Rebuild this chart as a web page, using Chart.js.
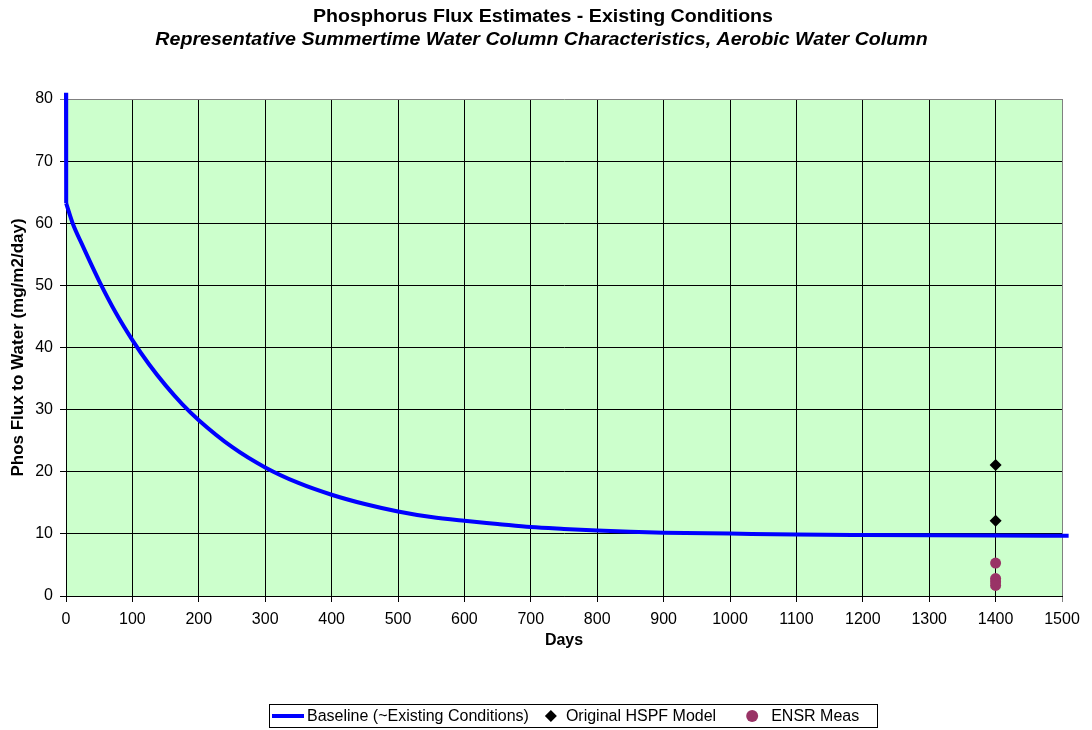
<!DOCTYPE html>
<html>
<head>
<meta charset="utf-8">
<script src="https://cdn.jsdelivr.net/npm/chart.js@4/dist/chart.umd.min.js"></script>
<style>
  html, body { margin: 0; padding: 0; background: #ffffff; }
  #wrap { width: 1092px; height: 730px; }
</style>
</head>
<body>
<div id="wrap"><canvas id="c" width="1092" height="730"></canvas></div>
<script>
// ---- Data ----
// initial spike at day 0 (runs off the top of the plot)
const spikeDays = [0, 0.3];
const spikeFlux = [81, 63.2];

// baseline decay curve
const baselineDays = [0.3, 10, 25, 50, 75, 100, 125, 150, 175, 200, 250, 300, 350, 400, 450, 500, 550, 600, 650, 700, 750, 800, 850, 900, 1000, 1100, 1200, 1300, 1400, 1510];
const baselineFlux = [63.2, 60.0, 56.4, 50.7, 45.6, 41.2, 37.3, 33.9, 30.9, 28.3, 24.0, 20.7, 18.2, 16.3, 14.8, 13.6, 12.7, 12.1, 11.6, 11.1, 10.8, 10.55, 10.35, 10.2, 10.05, 9.9, 9.82, 9.76, 9.72, 9.7];

const hspfDays = [1400, 1400];
const hspfFlux = [21.1, 12.1];

const ensrDays = [1400, 1400, 1400, 1400];
const ensrFlux = [5.3, 2.8, 2.3, 1.7];

const xTicks = [0, 100, 200, 300, 400, 500, 600, 700, 800, 900, 1000, 1100, 1200, 1300, 1400, 1500];
const yTicks = [0, 10, 20, 30, 40, 50, 60, 70, 80];

const seriesLabels = ['Baseline (~Existing Conditions)', 'Original HSPF Model', 'ENSR Meas'];
const titleText = 'Phosphorus Flux Estimates - Existing Conditions';
const subtitleText = 'Representative Summertime Water Column Characteristics, Aerobic Water Column';
const xTitle = 'Days';
const yTitle = 'Phos Flux to Water (mg/m2/day)';

// ---- Build datasets ----
const toXY = (xs, ys) => xs.map((x, i) => ({ x: x, y: ys[i] }));

const FONT = '"Liberation Sans", Arial, sans-serif';

const plotBg = {
  id: 'plotBg',
  beforeDraw(chart) {
    const { ctx, chartArea: a } = chart;
    ctx.save();
    ctx.fillStyle = '#CCFFCC';
    ctx.fillRect(a.left, a.top, a.right - a.left, a.bottom - a.top);
    ctx.restore();
  }
};

// Chart titles (slightly wide bold face, as in the reference)
const wideTitles = {
  id: 'wideTitles',
  afterDraw(chart) {
    const ctx = chart.ctx;
    ctx.save();
    ctx.fillStyle = '#000';
    ctx.textAlign = 'center';
    ctx.textBaseline = 'alphabetic';
    const sx = 1.09;
    ctx.font = 'bold 18px ' + FONT;
    ctx.save(); ctx.translate(543, 21.5); ctx.scale(sx, 1); ctx.fillText(titleText, 0, 0); ctx.restore();
    ctx.font = 'italic bold 18px ' + FONT;
    ctx.save(); ctx.translate(541.5, 45); ctx.scale(sx, 1); ctx.fillText(subtitleText, 0, 0); ctx.restore();
    ctx.restore();
  }
};

const boxLegend = {
  id: 'boxLegend',
  afterDraw(chart) {
    const ctx = chart.ctx;
    ctx.save();
    ctx.font = '16px ' + FONT;
    ctx.textBaseline = 'middle';
    ctx.fillStyle = '#000';
    const w1 = ctx.measureText(seriesLabels[0]).width;
    const w2 = ctx.measureText(seriesLabels[1]).width;
    const w3 = ctx.measureText(seriesLabels[2]).width;
    const total = 3 + 32 + 3 + w1 + 15 + 14 + 8 + w2 + 29 + 14 + 12 + w3 + 18;
    const left = Math.round(573 - total / 2);
    const top = 704, h = 23, cy = top + h / 2 + 0.5;
    ctx.strokeStyle = '#000';
    ctx.lineWidth = 1;
    ctx.strokeRect(left + 0.5, top + 0.5, Math.round(total), h);
    let x = left + 3;
    ctx.strokeStyle = '#0000FF';
    ctx.lineWidth = 4;
    ctx.beginPath(); ctx.moveTo(x, cy); ctx.lineTo(x + 32, cy); ctx.stroke();
    x += 35;
    ctx.fillText(seriesLabels[0], x, cy + 1);
    x += w1 + 15;
    ctx.fillStyle = '#000';
    ctx.beginPath();
    ctx.moveTo(x + 7, cy - 6); ctx.lineTo(x + 13, cy); ctx.lineTo(x + 7, cy + 6); ctx.lineTo(x + 1, cy);
    ctx.closePath(); ctx.fill();
    x += 22;
    ctx.fillText(seriesLabels[1], x, cy + 1);
    x += w2 + 29;
    ctx.fillStyle = '#993366';
    ctx.beginPath(); ctx.arc(x + 7, cy, 6, 0, Math.PI * 2); ctx.fill();
    x += 26;
    ctx.fillStyle = '#000';
    ctx.fillText(seriesLabels[2], x, cy + 1);
    ctx.restore();
  }
};

const lineStyle = {
  showLine: true,
  borderColor: '#0000FF',
  backgroundColor: '#0000FF',
  borderWidth: 4,
  pointRadius: 0,
  pointHoverRadius: 0,
  clip: { left: 5, top: 12, right: 12, bottom: 5 }
};

new Chart(document.getElementById('c'), {
  type: 'scatter',
  data: {
    datasets: [
      Object.assign({ label: seriesLabels[0] + ' (start)', data: toXY(spikeDays, spikeFlux), order: 4 }, lineStyle),
      Object.assign({ label: seriesLabels[0], data: toXY(baselineDays, baselineFlux), cubicInterpolationMode: 'monotone', order: 3 }, lineStyle),
      {
        label: seriesLabels[1],
        data: toXY(hspfDays, hspfFlux),
        pointStyle: 'rectRot',
        pointRadius: 6,
        backgroundColor: '#000000',
        borderColor: '#000000',
        borderWidth: 0,
        order: 1
      },
      {
        label: seriesLabels[2],
        data: toXY(ensrDays, ensrFlux),
        pointStyle: 'circle',
        pointRadius: 5.5,
        backgroundColor: '#993366',
        borderColor: '#993366',
        borderWidth: 0,
        order: 2
      }
    ]
  },
  options: {
    responsive: false,
    animation: false,
    events: [],
    layout: { padding: { left: 0, right: 30, top: 99, bottom: 74 } },
    plugins: {
      legend: { display: false },
      tooltip: { enabled: false },
      title: { display: false },
      subtitle: { display: false }
    },
    scales: {
      x: {
        type: 'linear',
        min: 0,
        max: 1500,
        afterBuildTicks(scale) { scale.ticks = xTicks.map(v => ({ value: v })); },
        afterFit(scale) { scale.height = 60; },
        ticks: { color: '#000', font: { family: FONT, size: 16 }, padding: 8, maxRotation: 0, callback: v => String(v) },
        grid: {
          color: ctx => (ctx.tick && ctx.tick.value === 1500) ? '#808080' : '#000000',
          lineWidth: 1,
          tickLength: 6,
          drawOnChartArea: true
        },
        border: { color: '#000', width: 1 },
        title: {
          display: true,
          text: xTitle,
          color: '#000',
          font: { family: FONT, size: 16, weight: 'bold' },
          padding: { top: 0, bottom: 6 }
        }
      },
      y: {
        type: 'linear',
        min: 0,
        max: 80,
        afterBuildTicks(scale) { scale.ticks = yTicks.map(v => ({ value: v })); },
        afterFit(scale) { scale.width = 66; },
        ticks: { color: '#000', font: { family: FONT, size: 16 }, padding: 7, callback: v => String(v) },
        grid: {
          color: ctx => (ctx.tick && ctx.tick.value === 80) ? '#808080' : '#000000',
          lineWidth: 1,
          tickLength: 6,
          drawOnChartArea: true
        },
        border: { color: '#000', width: 1 },
        title: {
          display: true,
          text: yTitle,
          color: '#000',
          font: { family: FONT, size: 17, weight: 'bold' },
          padding: { top: 8.5, bottom: 0 }
        }
      }
    }
  },
  plugins: [plotBg, wideTitles, boxLegend]
});
</script>
</body>
</html>
